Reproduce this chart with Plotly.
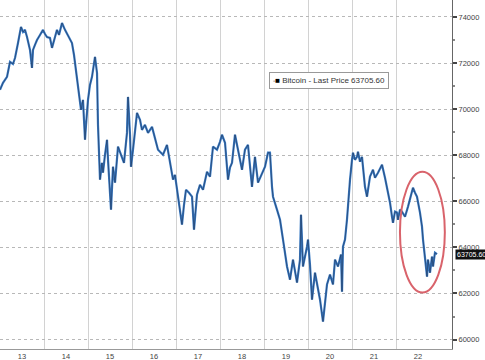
import plotly.graph_objects as go

# time in days (day-of-month, fractional), price in USD
times = [13.000, 13.068, 13.159, 13.227, 13.295, 13.341, 13.409, 13.477, 13.523, 13.568,
         13.614, 13.682, 13.727, 13.750, 13.795, 13.841, 13.909, 13.977, 14.023, 14.068,
         14.136, 14.182, 14.250, 14.295, 14.341, 14.409, 14.477, 14.545, 14.636, 14.682,
         14.750, 14.795, 14.841, 14.886, 14.932, 14.955, 15.000, 15.045, 15.091, 15.159,
         15.205, 15.227, 15.250, 15.273, 15.318, 15.341, 15.386, 15.432, 15.455, 15.523,
         15.568, 15.614, 15.682, 15.773, 15.818, 15.886, 15.909, 15.955, 15.977, 16.023,
         16.068, 16.114, 16.182, 16.227, 16.295, 16.364, 16.455, 16.523, 16.591, 16.636,
         16.705, 16.795, 16.864, 16.932, 16.977, 17.023, 17.091, 17.136, 17.182, 17.227,
         17.295, 17.364, 17.409, 17.477, 17.545, 17.614, 17.705, 17.773, 17.841, 17.932,
         18.000, 18.045, 18.114, 18.182, 18.227, 18.273, 18.341, 18.409, 18.500, 18.568,
         18.636, 18.727, 18.795, 18.864, 18.955, 19.023, 19.091, 19.136, 19.182, 19.205,
         19.295, 19.364, 19.432, 19.523, 19.591, 19.659, 19.750, 19.818, 19.841, 19.886,
         19.977, 20.000, 20.045, 20.091, 20.159, 20.227, 20.273, 20.341, 20.386, 20.432,
         20.500, 20.568, 20.614, 20.682, 20.750, 20.773, 20.795, 20.841, 20.886, 20.909,
         20.955, 21.000, 21.023, 21.068, 21.114, 21.136, 21.182, 21.227, 21.295, 21.341,
         21.409, 21.477, 21.523, 21.591, 21.682, 21.750, 21.795, 21.818, 21.864, 21.909,
         21.932, 21.977, 22.023, 22.045, 22.091, 22.136, 22.205, 22.273, 22.318, 22.386,
         22.432, 22.477, 22.545, 22.591, 22.614, 22.659, 22.705, 22.727, 22.773, 22.818,
         22.841, 22.886, 22.932]

prices = [70840, 71140, 71400, 72050, 71960, 72220, 72870, 73570, 73350, 73440,
          73130, 72570, 71790, 72570, 72790, 73000, 73220, 73440, 73260, 73130,
          73090, 72660, 73130, 73440, 73220, 73740, 73440, 73220, 72870, 72350,
          71400, 70840, 69970, 70400, 68670, 69320, 70400, 71050, 71400, 72270,
          71570, 69320, 68370, 66940, 67670, 67240, 68020, 68670, 67800, 65640,
          67500, 66810, 68370, 67930, 67670, 68970, 70530, 68890, 67500, 68240,
          69100, 69840, 69540, 69100, 69320, 68970, 69230, 68670, 68240, 68150,
          68020, 68450, 67590, 66940, 67150, 66500, 65510, 64990, 65850, 66500,
          66370, 66200, 64770, 66290, 66720, 66500, 67280, 67070, 68370, 68240,
          68580, 68890, 68540, 66940, 67460, 67670, 68890, 68240, 67370, 68240,
          68450, 66630, 67930, 66810, 67240, 67500, 68110, 68110, 66630, 66200,
          65640, 65200, 64340, 63170, 62600, 63470, 62470, 63470, 65420, 63170,
          64030, 64340, 63250, 61730, 62900, 62170, 61730, 60780, 61730, 62390,
          62820, 62390, 63470, 63170, 63690, 62080, 64030, 64340, 65200, 65940,
          66940, 67800, 68110, 67800, 67930, 68150, 67720, 67930, 66630, 66200,
          67070, 67370, 67020, 67240, 67590, 67020, 66630, 66370, 65940, 65330,
          65070, 65550, 65510, 65200, 65640, 65550, 65330, 65770, 66070, 66590,
          66370, 66200, 65510, 64900, 64340, 63470, 62730, 63470, 62900, 63600,
          63170, 63770, 63705.6]

last_price = 63705.60
series_name = "Bitcoin - Last Price"
day_labels = ["13", "14", "15", "16", "17", "18", "19", "20", "21", "22"]
day_bounds = [14, 15, 16, 17, 18, 19, 20, 21, 22]
y_ticks = [60000, 62000, 64000, 66000, 68000, 70000, 72000, 74000]

# highlight ellipse bounds (data units)
ell_x = [22.09, 23.11]
ell_y = [62040, 67280]

fig = go.Figure()
fig.add_trace(go.Scatter(x=times, y=prices, mode="lines",
                         line=dict(color="#3b7cc6", width=2.2), showlegend=False,
                         hoverinfo="skip"))
fig.add_trace(go.Scatter(x=times, y=prices, mode="lines",
                         line=dict(color="#1b2740", width=0.5), showlegend=False))

fig.add_shape(type="circle", xref="x", yref="y",
              x0=ell_x[0], x1=ell_x[1], y0=ell_y[0], y1=ell_y[1],
              line=dict(color="#d9636b", width=2))

fig.add_annotation(xref="paper", yref="paper", x=0.728, y=0.769,
                   xanchor="center", yanchor="middle",
                   text="<span style='color:#b0b0b0;font-size:6px'>▪</span>"
                        "<span style='color:#000000'>■</span> "
                        f"{series_name} {last_price:.2f}",
                   showarrow=False, font=dict(family="Liberation Sans", size=8, color="#333333"),
                   bgcolor="white", bordercolor="#999999", borderwidth=1, borderpad=3)

fig.add_annotation(xref="paper", yref="y", x=1.0, y=last_price, xanchor="left",
                   xshift=3, text=f"{last_price:.2f}", showarrow=False,
                   font=dict(family="Liberation Sans", size=7, color="white"),
                   bgcolor="#111111", borderpad=1)

fig.update_layout(
    width=485, height=360,
    margin=dict(l=0, r=33, t=0, b=11),
    plot_bgcolor="white", paper_bgcolor="white",
    xaxis=dict(range=[13, 13 + 452 / 44],
               tickvals=[13.5 + i for i in range(len(day_labels))], ticktext=day_labels,
               showgrid=False, ticks="", zeroline=False,
               showline=True, linecolor="#999999", linewidth=1,
               tickfont=dict(family="Liberation Sans", size=7.5, color="#444444"),
               automargin=False, ticklabelstandoff=0,
               minor=dict(tickvals=day_bounds, showgrid=True, gridcolor="#d2d2d2",
                          gridwidth=1, ticks="")),
    yaxis=dict(range=[59590, 74737], side="right", tickvals=y_ticks,
               tickformat="d",
               showgrid=True, gridcolor="#b8b8b8", griddash="dot", gridwidth=1,
               zeroline=False, showline=True, linecolor="#666666", linewidth=1,
               ticks="outside", ticklen=4, tickcolor="#444444", tickwidth=1.5,
               tickfont=dict(family="Liberation Sans", size=7.5, color="#444444"),
               automargin=False,
               minor=dict(dtick=1000, ticks="outside", ticklen=2, tickcolor="#888888",
                          showgrid=False)),
)

fig.write_html("out.html")
